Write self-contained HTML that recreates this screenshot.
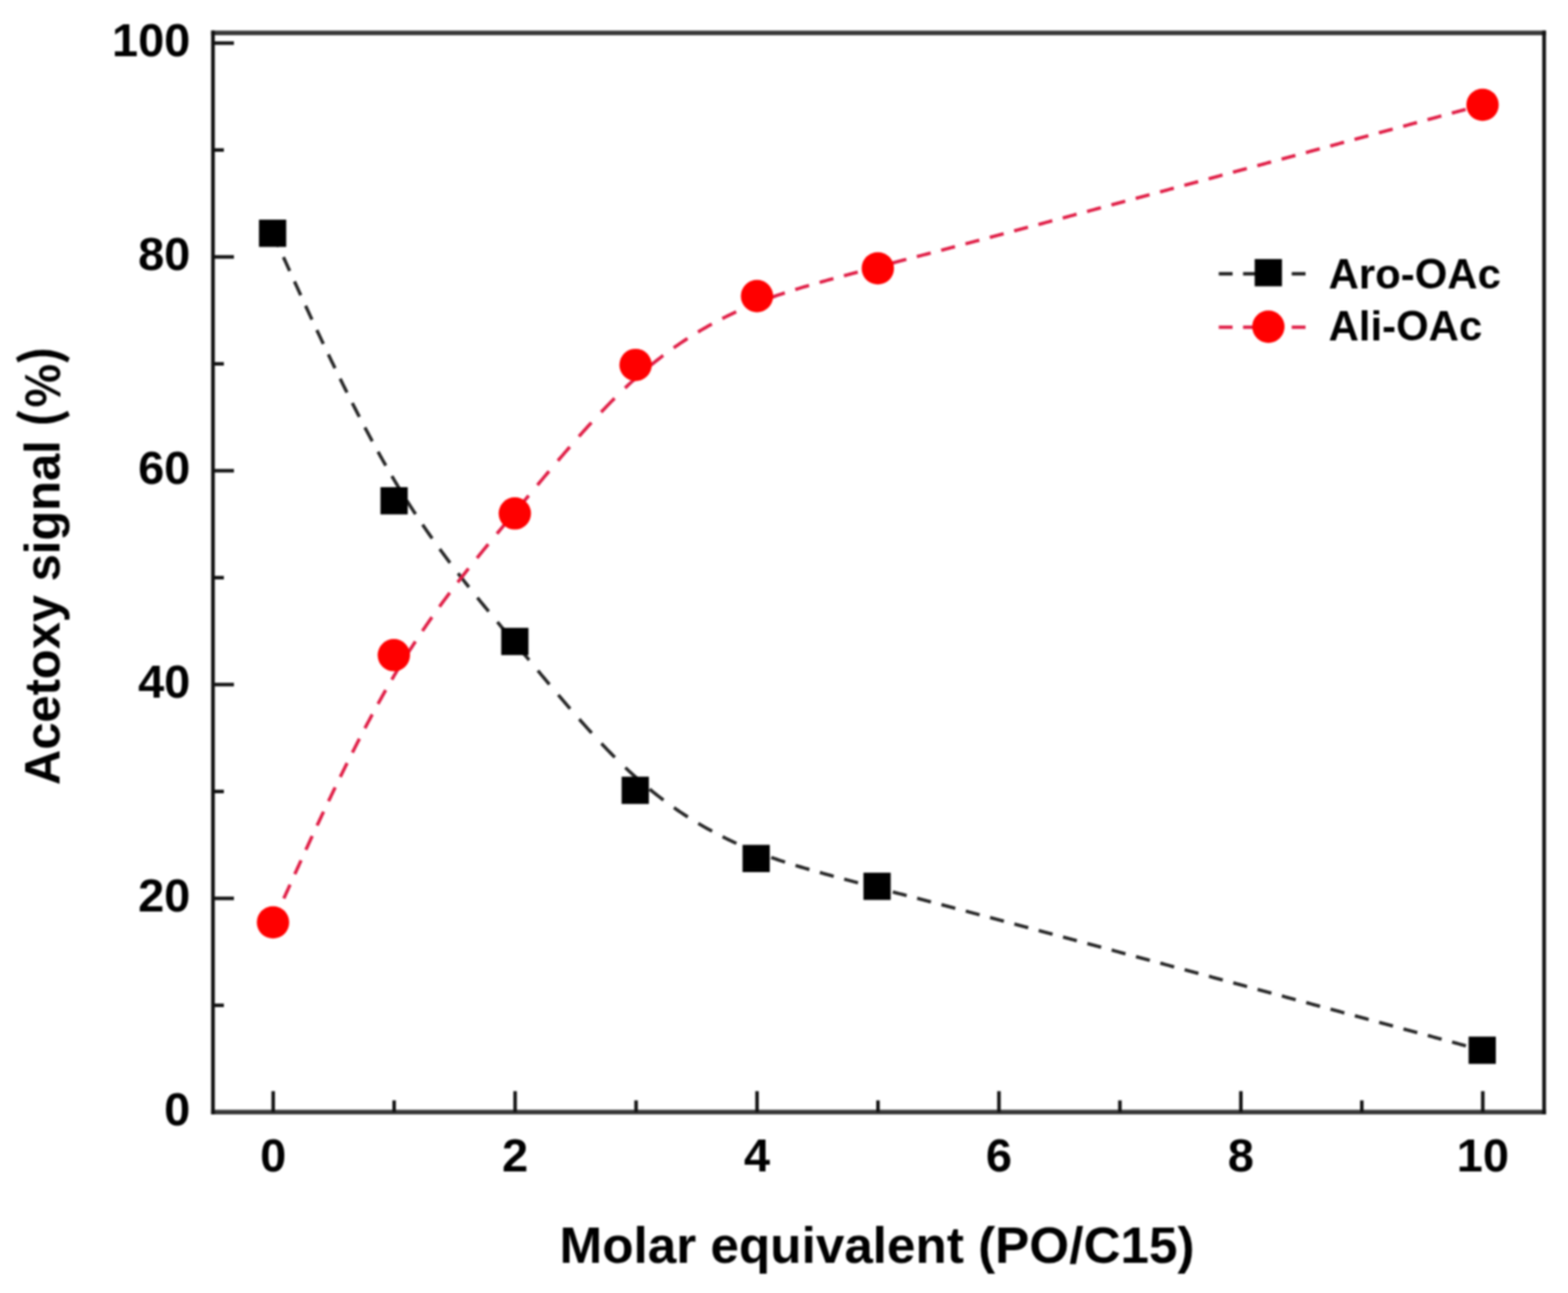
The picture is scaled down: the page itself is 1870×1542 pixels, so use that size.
<!DOCTYPE html><html><head><meta charset="utf-8"><title>Acetoxy signal vs Molar equivalent</title><style>html,body{margin:0;padding:0;background:#fff;}svg{display:block;filter:blur(1.0px);}text{font-family:"Liberation Sans",Arial,sans-serif;font-weight:bold;fill:#000;}</style></head><body>
<svg width="1870" height="1542" viewBox="0 0 1870 1542">
<rect width="1870" height="1542" fill="#fff"/>
<path d="M325.10,278.20 L326.14,280.49 L327.18,282.77 L328.21,285.06 L329.25,287.34 L330.29,289.63 L331.33,291.91 L332.37,294.20 M338.05,306.70 L339.12,309.06 L340.19,311.41 L341.26,313.77 L342.33,316.13 L343.40,318.49 L344.47,320.84 L345.54,323.20 M351.22,335.70 L352.29,338.06 L353.36,340.41 L354.43,342.77 L355.51,345.13 L356.58,347.49 L357.66,349.84 L358.73,352.20 M364.46,364.70 L365.54,367.06 L366.63,369.41 L367.71,371.77 L368.80,374.13 L369.89,376.49 L370.98,378.84 L372.07,381.20 M377.90,393.70 L379.00,396.06 L380.11,398.41 L381.22,400.77 L382.33,403.13 L383.44,405.49 L384.55,407.84 L385.67,410.20 M391.62,422.70 L392.75,425.06 L393.88,427.41 L395.02,429.77 L396.15,432.13 L397.29,434.49 L398.44,436.84 L399.58,439.20 M405.69,451.70 L406.85,454.06 L408.01,456.41 L409.18,458.77 L410.35,461.13 L411.52,463.49 L412.70,465.84 L413.87,468.20 M420.17,480.70 L421.37,483.06 L422.57,485.41 L423.78,487.77 L424.99,490.13 L426.20,492.49 L427.42,494.84 L428.63,497.20 M435.17,509.70 L436.41,512.06 L437.66,514.41 L438.92,516.77 L440.18,519.13 L441.44,521.49 L442.71,523.84 L443.98,526.20 M450.81,538.70 L452.12,541.06 L453.43,543.41 L454.75,545.77 L456.07,548.13 L457.40,550.49 L458.73,552.84 L460.08,555.20 M467.31,567.70 L468.70,570.06 L470.10,572.41 L471.50,574.77 L472.91,577.13 L474.33,579.49 L475.76,581.84 L477.20,584.20 M484.98,596.70 L486.47,599.06 L487.97,601.41 L489.49,603.77 L491.01,606.13 L492.54,608.49 L494.08,610.84 L495.63,613.20 M503.99,625.70 L505.60,628.06 L507.22,630.41 L508.85,632.77 L510.48,635.13 L512.13,637.49 L513.78,639.84 L515.45,642.20 M524.43,654.70 L526.15,657.06 L527.88,659.41 L529.62,661.77 L531.37,664.13 L533.13,666.49 L534.90,668.84 L536.68,671.20 M546.25,683.70 L548.08,686.06 L549.92,688.41 L551.76,690.77 L553.62,693.13 L555.48,695.49 L557.35,697.84 L559.23,700.20 M569.28,712.70 L571.20,715.06 L573.12,717.41 L575.05,719.77 L576.98,722.13 L578.91,724.49 L580.85,726.84 L582.80,729.20 M593.16,741.70 L595.12,744.06 L597.08,746.41 L599.05,748.77 L601.02,751.13 L602.98,753.49 L604.95,755.84 L606.92,758.20 M617.33,770.70 L619.29,773.06 L621.25,775.41 L623.21,777.77 L625.17,780.13 L627.13,782.49 L629.08,784.84 L631.04,787.20 M641.44,799.70 L643.40,802.06 L645.37,804.41 L647.34,806.77 L649.31,809.13 L651.28,811.49 L653.26,813.84 L655.23,816.20 M665.79,828.70 L667.79,831.06 L669.80,833.41 L671.82,835.77 L673.84,838.13 L675.86,840.49 L677.89,842.84 L679.93,845.20 M690.86,857.70 L692.95,860.06 L695.04,862.41 L697.15,864.77 L699.27,867.13 L701.39,869.49 L703.53,871.84 L705.68,874.20 M717.29,886.70 L719.52,889.06 L721.77,891.41 L724.03,893.77 L726.32,896.13 L728.62,898.49 L730.94,900.84 L733.28,903.20 M745.78,915.42 L748.14,917.66 L750.49,919.87 L752.85,922.05 L755.21,924.21 L757.56,926.34 L759.92,928.45 L762.28,930.54 M774.78,941.16 L777.14,943.08 L779.49,944.98 L781.85,946.86 L784.21,948.71 L786.56,950.54 L788.92,952.35 L791.28,954.13 M803.78,963.21 L806.14,964.86 L808.49,966.48 L810.85,968.08 L813.21,969.66 L815.56,971.22 L817.92,972.75 L820.28,974.27 M832.78,981.98 L835.14,983.38 L837.49,984.75 L839.85,986.11 L842.21,987.45 L844.56,988.77 L846.92,990.07 L849.28,991.35 M861.78,997.87 L864.14,999.05 L866.49,1000.21 L868.85,1001.35 L871.21,1002.48 L873.56,1003.59 L875.92,1004.69 L878.28,1005.77 M890.78,1011.26 L893.14,1012.25 L895.49,1013.23 L897.85,1014.20 L900.21,1015.15 L902.56,1016.09 L904.92,1017.01 L907.28,1017.92 M919.78,1022.55 L922.14,1023.38 L924.49,1024.20 L926.85,1025.01 L929.21,1025.81 L931.56,1026.60 L933.92,1027.38 L936.28,1028.15 M948.78,1032.08 L951.14,1032.80 L953.49,1033.51 L955.85,1034.22 L958.21,1034.91 L960.56,1035.61 L962.92,1036.29 L965.28,1036.98 M977.78,1040.52 L980.14,1041.18 L982.49,1041.83 L984.85,1042.48 L987.21,1043.13 L989.56,1043.78 L991.92,1044.42 L994.28,1045.06 M1006.78,1048.43 L1009.14,1049.06 L1011.49,1049.69 L1013.85,1050.31 L1016.21,1050.94 L1018.56,1051.56 L1020.92,1052.19 L1023.28,1052.81 M1035.78,1056.11 L1038.14,1056.73 L1040.49,1057.35 L1042.85,1057.97 L1045.21,1058.58 L1047.56,1059.20 L1049.92,1059.82 L1052.28,1060.44 M1064.78,1063.71 L1067.14,1064.33 L1069.49,1064.94 L1071.85,1065.56 L1074.21,1066.18 L1076.56,1066.79 L1078.92,1067.41 L1081.28,1068.03 M1093.78,1071.30 L1096.14,1071.92 L1098.49,1072.54 L1100.85,1073.16 L1103.21,1073.77 L1105.56,1074.39 L1107.92,1075.01 L1110.28,1075.63 M1122.78,1078.92 L1125.14,1079.54 L1127.49,1080.16 L1129.85,1080.78 L1132.21,1081.40 L1134.56,1082.02 L1136.92,1082.64 L1139.28,1083.27 M1151.78,1086.57 L1154.14,1087.19 L1156.49,1087.82 L1158.85,1088.44 L1161.21,1089.07 L1163.56,1089.69 L1165.92,1090.32 L1168.28,1090.94 M1180.78,1094.26 L1183.14,1094.89 L1185.49,1095.51 L1187.85,1096.14 L1190.21,1096.77 L1192.56,1097.39 L1194.92,1098.02 L1197.28,1098.65 M1209.78,1101.98 L1212.14,1102.61 L1214.49,1103.24 L1216.85,1103.87 L1219.21,1104.49 L1221.56,1105.12 L1223.92,1105.75 L1226.28,1106.38 M1238.78,1109.72 L1241.14,1110.35 L1243.49,1110.98 L1245.85,1111.61 L1248.21,1112.24 L1250.56,1112.87 L1252.92,1113.50 L1255.28,1114.13 M1267.78,1117.48 L1270.14,1118.11 L1272.49,1118.74 L1274.85,1119.38 L1277.21,1120.01 L1279.56,1120.64 L1281.92,1121.27 L1284.28,1121.90 M1296.78,1125.26 L1299.14,1125.89 L1301.49,1126.52 L1303.85,1127.15 L1306.21,1127.79 L1308.56,1128.42 L1310.92,1129.05 L1313.28,1129.69 M1325.78,1133.04 L1328.14,1133.68 L1330.49,1134.31 L1332.85,1134.94 L1335.21,1135.58 L1337.56,1136.21 L1339.92,1136.85 L1342.28,1137.48 M1354.78,1140.84 L1357.14,1141.48 L1359.49,1142.11 L1361.85,1142.75 L1364.21,1143.38 L1366.56,1144.01 L1368.92,1144.65 L1371.28,1145.28 M1383.78,1148.65 L1386.14,1149.29 L1388.49,1149.92 L1390.85,1150.56 L1393.21,1151.19 L1395.56,1151.83 L1397.92,1152.46 L1400.28,1153.10 M1412.78,1156.47 L1415.14,1157.10 L1417.49,1157.74 L1419.85,1158.37 L1422.21,1159.01 L1424.56,1159.65 L1426.92,1160.28 L1429.28,1160.92 M1441.78,1164.29 L1444.14,1164.93 L1446.49,1165.56 L1448.85,1166.20 L1451.21,1166.84 L1453.56,1167.47 L1455.92,1168.11 L1458.28,1168.74 M1470.78,1172.12 L1473.14,1172.76 L1475.49,1173.39 L1477.85,1174.03 L1480.21,1174.67 L1482.56,1175.30 L1484.92,1175.94 L1487.28,1176.58 M1499.78,1179.96 L1502.14,1180.59 L1504.49,1181.23 L1506.85,1181.87 L1509.21,1182.51 L1511.56,1183.14 L1513.92,1183.78 L1516.28,1184.42 M1528.78,1187.80 L1531.14,1188.44 L1533.49,1189.07 L1535.85,1189.71 L1538.21,1190.35 L1540.56,1190.99 L1542.92,1191.62 L1545.28,1192.26 M1557.78,1195.64 L1560.14,1196.28 L1562.49,1196.92 L1564.85,1197.56 L1567.21,1198.20 L1569.56,1198.83 L1571.92,1199.47 L1574.28,1200.11 M1586.78,1203.49 L1589.14,1204.13 L1591.49,1204.77 L1593.85,1205.41 L1596.21,1206.05 L1598.56,1206.68 L1600.92,1207.32 L1603.28,1207.96 M1615.78,1211.35 L1618.14,1211.99 L1620.49,1212.62 L1622.85,1213.26 L1625.21,1213.90 L1627.56,1214.54 L1629.92,1215.18 L1632.28,1215.82 M1644.78,1219.20 L1647.14,1219.84 L1649.49,1220.48 L1651.85,1221.12 L1654.21,1221.76 L1656.56,1222.39 L1658.92,1223.03 L1661.28,1223.67 M1673.78,1227.06 L1676.14,1227.70 L1678.49,1228.33 L1680.85,1228.97 L1683.21,1229.61 L1685.56,1230.25 L1687.92,1230.89 L1690.28,1231.53 M1702.78,1234.91 L1705.14,1235.55 L1707.49,1236.19 L1709.85,1236.83 L1712.21,1237.47 L1714.56,1238.11 L1716.92,1238.74 L1719.28,1239.38 M1731.78,1242.77 L1734.14,1243.41 L1736.49,1244.05 L1738.85,1244.68 L1741.21,1245.32 L1743.56,1245.96 L1745.92,1246.60 L1748.28,1247.24 M1760.78,1250.63 L1763.09,1251.25 L1765.39,1251.88 L1767.70,1252.50" fill="none" stroke="#262626" stroke-width="4.0"/>
<path d="M325.60,1100.00 L326.63,1097.71 L327.67,1095.43 L328.70,1093.14 L329.73,1090.86 L330.77,1088.57 L331.80,1086.29 L332.83,1084.00 M338.49,1071.50 L339.55,1069.14 L340.62,1066.79 L341.68,1064.43 L342.75,1062.07 L343.82,1059.71 L344.88,1057.36 L345.95,1055.00 M351.60,1042.50 L352.67,1040.14 L353.73,1037.79 L354.80,1035.43 L355.87,1033.07 L356.94,1030.71 L358.01,1028.36 L359.08,1026.00 M364.78,1013.50 L365.86,1011.14 L366.94,1008.79 L368.02,1006.43 L369.10,1004.07 L370.19,1001.71 L371.27,999.36 L372.36,997.00 M378.16,984.50 L379.26,982.14 L380.36,979.79 L381.46,977.43 L382.57,975.07 L383.68,972.71 L384.79,970.36 L385.90,968.00 M391.83,955.50 L392.95,953.14 L394.08,950.79 L395.21,948.43 L396.34,946.07 L397.47,943.71 L398.61,941.36 L399.75,939.00 M405.84,926.50 L406.99,924.14 L408.15,921.79 L409.31,919.43 L410.48,917.07 L411.64,914.71 L412.81,912.36 L413.99,910.00 M420.26,897.50 L421.46,895.14 L422.65,892.79 L423.85,890.43 L425.06,888.07 L426.27,885.71 L427.48,883.36 L428.69,881.00 M435.20,868.50 L436.44,866.14 L437.69,863.79 L438.94,861.43 L440.19,859.07 L441.45,856.71 L442.71,854.36 L443.98,852.00 M450.79,839.50 L452.09,837.14 L453.40,834.79 L454.71,832.43 L456.03,830.07 L457.35,827.71 L458.69,825.36 L460.02,823.00 M467.23,810.50 L468.62,808.14 L470.01,805.79 L471.41,803.43 L472.82,801.07 L474.23,798.71 L475.66,796.36 L477.09,794.00 M484.84,781.50 L486.33,779.14 L487.82,776.79 L489.33,774.43 L490.85,772.07 L492.37,769.71 L493.91,767.36 L495.45,765.00 M503.79,752.50 L505.39,750.14 L507.00,747.79 L508.62,745.43 L510.25,743.07 L511.89,740.71 L513.54,738.36 L515.19,736.00 M524.14,723.50 L525.86,721.14 L527.58,718.79 L529.32,716.43 L531.06,714.07 L532.81,711.71 L534.58,709.36 L536.35,707.00 M545.88,694.50 L547.71,692.14 L549.54,689.79 L551.38,687.43 L553.22,685.07 L555.08,682.71 L556.94,680.36 L558.81,678.00 M568.84,665.50 L570.75,663.14 L572.66,660.79 L574.59,658.43 L576.51,656.07 L578.44,653.71 L580.38,651.36 L582.32,649.00 M592.66,636.50 L594.62,634.14 L596.58,631.79 L598.54,629.43 L600.51,627.07 L602.47,624.71 L604.44,622.36 L606.40,620.00 M616.82,607.50 L618.78,605.14 L620.74,602.79 L622.70,600.43 L624.66,598.07 L626.62,595.71 L628.58,593.36 L630.54,591.00 M640.95,578.50 L642.92,576.14 L644.89,573.79 L646.86,571.43 L648.83,569.07 L650.81,566.71 L652.79,564.36 L654.77,562.00 M665.35,549.50 L667.35,547.14 L669.37,544.79 L671.39,542.43 L673.41,540.07 L675.44,537.71 L677.48,535.36 L679.52,533.00 M690.47,520.50 L692.56,518.14 L694.66,515.79 L696.77,513.43 L698.89,511.07 L701.02,508.71 L703.16,506.36 L705.32,504.00 M716.94,491.50 L719.18,489.14 L721.43,486.79 L723.70,484.43 L725.98,482.07 L728.29,479.71 L730.61,477.36 L732.95,475.00 M745.45,462.77 L747.81,460.54 L750.16,458.33 L752.52,456.14 L754.88,453.98 L757.24,451.84 L759.59,449.73 L761.95,447.64 M774.45,436.99 L776.81,435.06 L779.16,433.15 L781.52,431.26 L783.88,429.40 L786.24,427.56 L788.59,425.75 L790.95,423.96 M803.45,414.83 L805.81,413.17 L808.16,411.54 L810.52,409.93 L812.88,408.34 L815.24,406.77 L817.59,405.22 L819.95,403.69 M832.45,395.91 L834.81,394.51 L837.16,393.12 L839.52,391.75 L841.88,390.40 L844.24,389.07 L846.59,387.76 L848.95,386.46 M861.45,379.87 L863.81,378.68 L866.16,377.51 L868.52,376.35 L870.88,375.21 L873.24,374.09 L875.59,372.98 L877.95,371.88 M890.45,366.32 L892.81,365.32 L895.16,364.33 L897.52,363.36 L899.88,362.39 L902.24,361.45 L904.59,360.51 L906.95,359.59 M919.45,354.91 L921.81,354.07 L924.16,353.24 L926.52,352.42 L928.88,351.61 L931.24,350.81 L933.59,350.03 L935.95,349.25 M948.45,345.28 L950.81,344.56 L953.16,343.85 L955.52,343.14 L957.88,342.44 L960.24,341.74 L962.59,341.05 L964.95,340.37 M977.45,336.81 L979.81,336.15 L982.16,335.49 L984.52,334.84 L986.88,334.19 L989.24,333.55 L991.59,332.90 L993.95,332.26 M1006.45,328.89 L1008.81,328.26 L1011.16,327.63 L1013.52,327.00 L1015.88,326.38 L1018.24,325.75 L1020.59,325.13 L1022.95,324.50 M1035.45,321.21 L1037.81,320.59 L1040.16,319.98 L1042.52,319.36 L1044.88,318.74 L1047.24,318.12 L1049.59,317.51 L1051.95,316.89 M1064.45,313.62 L1066.81,313.01 L1069.16,312.39 L1071.52,311.77 L1073.88,311.16 L1076.24,310.54 L1078.59,309.93 L1080.95,309.31 M1093.45,306.04 L1095.81,305.43 L1098.16,304.81 L1100.52,304.19 L1102.88,303.58 L1105.24,302.96 L1107.59,302.34 L1109.95,301.72 M1122.45,298.45 L1124.81,297.83 L1127.16,297.21 L1129.52,296.59 L1131.88,295.97 L1134.24,295.35 L1136.59,294.73 L1138.95,294.11 M1151.45,290.81 L1153.81,290.19 L1156.16,289.56 L1158.52,288.94 L1160.88,288.32 L1163.24,287.69 L1165.59,287.07 L1167.95,286.45 M1180.45,283.13 L1182.81,282.51 L1185.16,281.88 L1187.52,281.26 L1189.88,280.63 L1192.24,280.01 L1194.59,279.38 L1196.95,278.75 M1209.45,275.43 L1211.81,274.80 L1214.16,274.18 L1216.52,273.55 L1218.88,272.92 L1221.24,272.29 L1223.59,271.67 L1225.95,271.04 M1238.45,267.70 L1240.81,267.08 L1243.16,266.45 L1245.52,265.82 L1247.88,265.19 L1250.24,264.56 L1252.59,263.93 L1254.95,263.30 M1267.45,259.96 L1269.81,259.33 L1272.16,258.70 L1274.52,258.07 L1276.88,257.44 L1279.24,256.81 L1281.59,256.18 L1283.95,255.55 M1296.45,252.20 L1298.81,251.57 L1301.16,250.94 L1303.52,250.31 L1305.88,249.67 L1308.24,249.04 L1310.59,248.41 L1312.95,247.78 M1325.45,244.43 L1327.81,243.80 L1330.16,243.16 L1332.52,242.53 L1334.88,241.90 L1337.24,241.27 L1339.59,240.63 L1341.95,240.00 M1354.45,236.64 L1356.81,236.01 L1359.16,235.38 L1361.52,234.74 L1363.88,234.11 L1366.24,233.48 L1368.59,232.84 L1370.95,232.21 M1383.45,228.85 L1385.81,228.22 L1388.16,227.58 L1390.52,226.95 L1392.88,226.32 L1395.24,225.68 L1397.59,225.05 L1399.95,224.41 M1412.45,221.05 L1414.81,220.42 L1417.16,219.78 L1419.52,219.15 L1421.88,218.51 L1424.24,217.88 L1426.59,217.24 L1428.95,216.61 M1441.45,213.24 L1443.81,212.61 L1446.16,211.97 L1448.52,211.34 L1450.88,210.70 L1453.24,210.07 L1455.59,209.43 L1457.95,208.80 M1470.45,205.43 L1472.81,204.79 L1475.16,204.15 L1477.52,203.52 L1479.88,202.88 L1482.24,202.25 L1484.59,201.61 L1486.95,200.98 M1499.45,197.60 L1501.81,196.97 L1504.16,196.33 L1506.52,195.70 L1508.88,195.06 L1511.24,194.42 L1513.59,193.79 L1515.95,193.15 M1528.45,189.78 L1530.81,189.14 L1533.16,188.51 L1535.52,187.87 L1537.88,187.23 L1540.24,186.60 L1542.59,185.96 L1544.95,185.32 M1557.45,181.95 L1559.81,181.31 L1562.16,180.67 L1564.52,180.04 L1566.88,179.40 L1569.24,178.76 L1571.59,178.13 L1573.95,177.49 M1586.45,174.11 L1588.81,173.47 L1591.16,172.84 L1593.52,172.20 L1595.88,171.56 L1598.24,170.93 L1600.59,170.29 L1602.95,169.65 M1615.45,166.27 L1617.81,165.64 L1620.16,165.00 L1622.52,164.36 L1624.88,163.72 L1627.24,163.09 L1629.59,162.45 L1631.95,161.81 M1644.45,158.43 L1646.81,157.80 L1649.16,157.16 L1651.52,156.52 L1653.88,155.88 L1656.24,155.25 L1658.59,154.61 L1660.95,153.97 M1673.45,150.59 L1675.81,149.95 L1678.16,149.32 L1680.52,148.68 L1682.88,148.04 L1685.24,147.41 L1687.59,146.77 L1689.95,146.13 M1702.45,142.75 L1704.81,142.11 L1707.16,141.48 L1709.52,140.84 L1711.88,140.20 L1714.24,139.56 L1716.59,138.93 L1718.95,138.29 M1731.45,134.91 L1733.81,134.27 L1736.16,133.63 L1738.52,133.00 L1740.88,132.36 L1743.24,131.72 L1745.59,131.09 L1747.95,130.45 M1760.45,127.07 L1762.36,126.55 L1764.27,126.03 L1766.19,125.52 L1768.10,125.00" fill="none" stroke="#e01e46" stroke-width="4.0"/>
<rect x="308.85" y="261.95" width="32.5" height="32.5" fill="#000"/>
<rect x="453.75" y="580.95" width="32.5" height="32.5" fill="#000"/>
<rect x="597.75" y="748.75" width="32.5" height="32.5" fill="#000"/>
<rect x="741.35" y="926.25" width="32.5" height="32.5" fill="#000"/>
<rect x="885.55" y="1007.55" width="32.5" height="32.5" fill="#000"/>
<rect x="1029.75" y="1040.75" width="32.5" height="32.5" fill="#000"/>
<rect x="1751.45" y="1236.25" width="32.5" height="32.5" fill="#000"/>
<circle cx="325.60" cy="1100.00" r="19.3" fill="#ff0000"/>
<circle cx="469.70" cy="781.30" r="19.3" fill="#ff0000"/>
<circle cx="614.00" cy="612.30" r="19.3" fill="#ff0000"/>
<circle cx="758.00" cy="435.20" r="19.3" fill="#ff0000"/>
<circle cx="902.80" cy="353.10" r="19.3" fill="#ff0000"/>
<circle cx="1046.90" cy="320.00" r="19.3" fill="#ff0000"/>
<circle cx="1768.10" cy="125.00" r="19.3" fill="#ff0000"/>
<line x1="251.8" y1="39.3" x2="1843.7" y2="39.3" stroke="#383838" stroke-width="5.6"/>
<line x1="251.8" y1="1326.3" x2="1843.7" y2="1326.3" stroke="#383838" stroke-width="5.6"/>
<line x1="254.0" y1="36.5" x2="254.0" y2="1329.1" stroke="#111" stroke-width="4.4"/>
<line x1="1841.5" y1="36.5" x2="1841.5" y2="1329.1" stroke="#111" stroke-width="4.4"/>
<line x1="254.0" y1="1198.90" x2="267.0" y2="1198.90" stroke="#111" stroke-width="4.2"/>
<line x1="254.0" y1="1071.40" x2="279.0" y2="1071.40" stroke="#111" stroke-width="4.2"/>
<line x1="254.0" y1="943.90" x2="267.0" y2="943.90" stroke="#111" stroke-width="4.2"/>
<line x1="254.0" y1="816.40" x2="279.0" y2="816.40" stroke="#111" stroke-width="4.2"/>
<line x1="254.0" y1="688.90" x2="267.0" y2="688.90" stroke="#111" stroke-width="4.2"/>
<line x1="254.0" y1="561.40" x2="279.0" y2="561.40" stroke="#111" stroke-width="4.2"/>
<line x1="254.0" y1="433.90" x2="267.0" y2="433.90" stroke="#111" stroke-width="4.2"/>
<line x1="254.0" y1="306.40" x2="279.0" y2="306.40" stroke="#111" stroke-width="4.2"/>
<line x1="254.0" y1="178.90" x2="267.0" y2="178.90" stroke="#111" stroke-width="4.2"/>
<line x1="254.0" y1="51.40" x2="279.0" y2="51.40" stroke="#111" stroke-width="4.2"/>
<line x1="325.80" y1="1326.3" x2="325.80" y2="1301.3" stroke="#111" stroke-width="4.2"/>
<line x1="470.06" y1="1326.3" x2="470.06" y2="1312.3" stroke="#111" stroke-width="4.2"/>
<line x1="614.32" y1="1326.3" x2="614.32" y2="1301.3" stroke="#111" stroke-width="4.2"/>
<line x1="758.58" y1="1326.3" x2="758.58" y2="1312.3" stroke="#111" stroke-width="4.2"/>
<line x1="902.84" y1="1326.3" x2="902.84" y2="1301.3" stroke="#111" stroke-width="4.2"/>
<line x1="1047.10" y1="1326.3" x2="1047.10" y2="1312.3" stroke="#111" stroke-width="4.2"/>
<line x1="1191.36" y1="1326.3" x2="1191.36" y2="1301.3" stroke="#111" stroke-width="4.2"/>
<line x1="1335.62" y1="1326.3" x2="1335.62" y2="1312.3" stroke="#111" stroke-width="4.2"/>
<line x1="1479.88" y1="1326.3" x2="1479.88" y2="1301.3" stroke="#111" stroke-width="4.2"/>
<line x1="1624.14" y1="1326.3" x2="1624.14" y2="1312.3" stroke="#111" stroke-width="4.2"/>
<line x1="1768.40" y1="1326.3" x2="1768.40" y2="1301.3" stroke="#111" stroke-width="4.2"/>
<text x="227" y="1341.9" font-size="56" text-anchor="end">0</text>
<text x="227" y="1086.9" font-size="56" text-anchor="end">20</text>
<text x="227" y="831.9" font-size="56" text-anchor="end">40</text>
<text x="227" y="576.9" font-size="56" text-anchor="end">60</text>
<text x="227" y="321.9" font-size="56" text-anchor="end">80</text>
<text x="227" y="66.9" font-size="56" text-anchor="end">100</text>
<text x="325.8" y="1397" font-size="56" text-anchor="middle">0</text>
<text x="614.3" y="1397" font-size="56" text-anchor="middle">2</text>
<text x="902.8" y="1397" font-size="56" text-anchor="middle">4</text>
<text x="1191.4" y="1397" font-size="56" text-anchor="middle">6</text>
<text x="1479.9" y="1397" font-size="56" text-anchor="middle">8</text>
<text x="1768.4" y="1397" font-size="56" text-anchor="middle">10</text>
<text x="667.3" y="1506" font-size="61.5" textLength="757.3" lengthAdjust="spacingAndGlyphs">Molar equivalent (PO/C15)</text>
<g transform="translate(70.5,0) rotate(-90)">
<text x="-936.2" y="0" font-size="59.5" textLength="411.2" lengthAdjust="spacingAndGlyphs">Acetoxy signal</text>
<text x="-510.3" y="0" font-size="62" style="font-family:&quot;Noto Sans CJK SC&quot;,&quot;Liberation Sans&quot;,sans-serif;font-weight:700;">(</text>
<text x="-486.2" y="0" font-size="54.5" style="font-family:&quot;Noto Sans CJK SC&quot;,&quot;Liberation Sans&quot;,sans-serif;font-weight:700;">%</text>
<text x="-435.5" y="0" font-size="62" style="font-family:&quot;Noto Sans CJK SC&quot;,&quot;Liberation Sans&quot;,sans-serif;font-weight:700;">)</text>
</g>
<line x1="1453.5" y1="326.5" x2="1557" y2="326.5" stroke="#1a1a1a" stroke-width="4.0" stroke-dasharray="16.5 12.5"/>
<rect x="1496.35" y="308.95" width="32.5" height="32.5" fill="#000"/>
<line x1="1453.5" y1="390.3" x2="1557" y2="390.3" stroke="#e01e46" stroke-width="4.0" stroke-dasharray="16.5 12.5"/>
<circle cx="1512.7" cy="389.6" r="19.3" fill="#ff0000"/>
<text x="1584.4" y="343.5" font-size="50">Aro-OAc</text>
<text x="1584.4" y="406.3" font-size="50">Ali-OAc</text>
</svg></body></html>
